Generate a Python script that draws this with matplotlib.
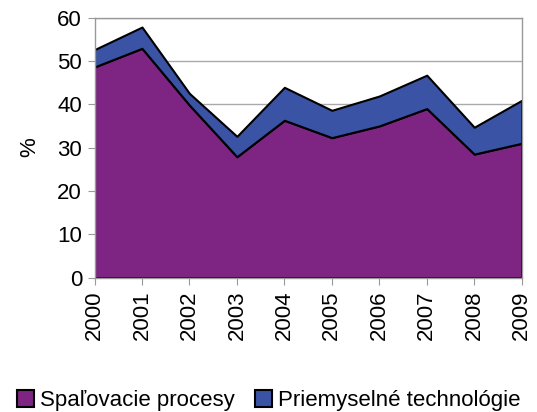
import matplotlib

matplotlib.use("Agg")

import matplotlib.pyplot as plt

plt.rcParams["font.family"] = ["Liberation Sans", "DejaVu Sans"]

years = ["2000", "2001", "2002", "2003", "2004", "2005", "2006", "2007", "2008", "2009"]
spalovacie = [48.6, 52.9, 39.8, 27.9, 36.3, 32.3, 35.0, 39.0, 28.5, 31.0]
priemyselne = [4.0, 4.9, 2.7, 4.7, 7.6, 6.3, 6.9, 7.7, 6.2, 9.9]

PURPLE = "#7E2482"
BLUE = "#3A53A4"

fig = plt.figure(figsize=(5.37, 4.12), dpi=100)
ax = fig.add_axes([0.176, 0.326, 0.7955, 0.6315])

x = list(range(len(years)))
ax.stackplot(x, spalovacie, priemyselne, colors=[PURPLE, BLUE],
             edgecolor="black", linewidth=1.5,
             labels=["Spaľovacie procesy", "Priemyselné technológie"], zorder=2)

ax.set_xlim(0, len(years) - 1)
ax.set_ylim(0, 60)
ax.set_yticks(range(0, 61, 10))
ax.set_xticks(x)
ax.set_xticklabels(years, rotation=90)
ax.tick_params(labelsize=16, length=5, color="#999999", pad=4)
ax.set_ylabel("%", fontsize=16, labelpad=12)
ax.grid(axis="y", color="#aaaaaa", linewidth=1, zorder=1)
ax.set_axisbelow(True)
for sp in ax.spines.values():
    sp.set_color("#999999")
    sp.set_linewidth(1)

handles, labels = ax.get_legend_handles_labels()
fig.legend(handles, labels, loc="center", bbox_to_anchor=(0.5, 0.028), ncol=2,
           frameon=False, fontsize=16, handlelength=0.8, handleheight=0.8,
           handletextpad=0.25, columnspacing=0.9)

fig.savefig("out.png", dpi=100)
plt.close(fig)
